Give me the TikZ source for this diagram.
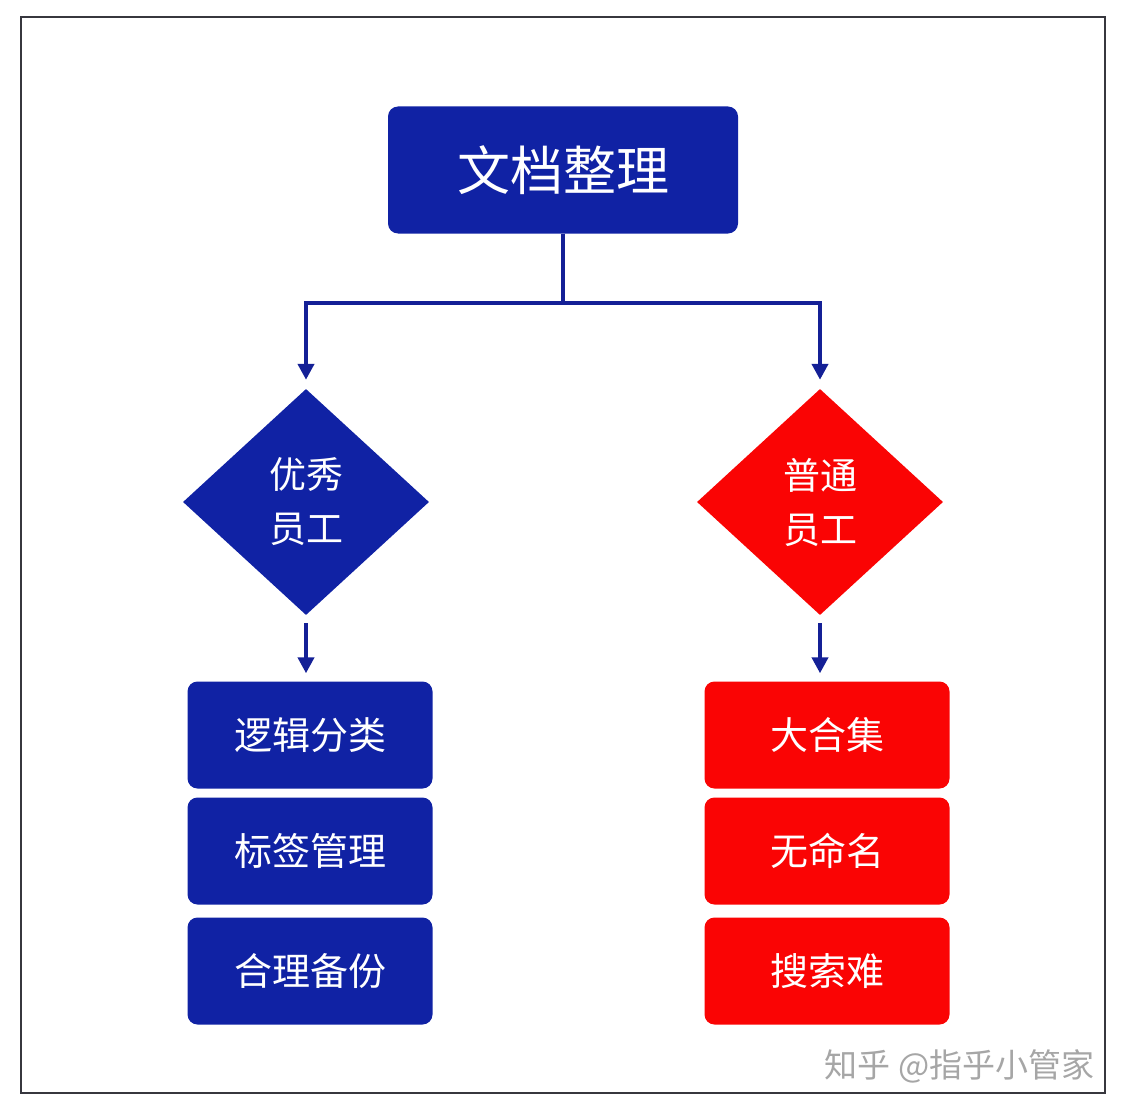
\documentclass[tikz,border=0pt]{standalone}
\usepackage{fontspec}
\newfontfamily\cjk{Noto Sans CJK SC}
\usetikzlibrary{shapes.geometric,arrows.meta,positioning}
\definecolor{docblue}{RGB}{16,34,164}
\definecolor{docred}{RGB}{250,4,4}
\definecolor{linkblue}{RGB}{20,32,150}
\definecolor{framegray}{RGB}{55,55,62}
\tikzset{
	headbox/.style={rectangle, rounded corners=10pt, fill=docblue, text=white, minimum width=350pt, minimum height=127pt, font=\cjk\fontsize{53}{60}\selectfont},
	sortdiam/.style={diamond, minimum width=246pt, minimum height=226pt, inner sep=0pt, text=white, align=center, font=\cjk\fontsize{37}{54}\selectfont},
	notebox/.style={rectangle, rounded corners=10pt, text=white, minimum width=245pt, minimum height=107pt, font=\cjk\fontsize{38}{46}\selectfont},
	link/.style={draw=linkblue, line width=4pt, -{Triangle[width=16pt,length=16pt]}}
}
\begin{document}
\begin{tikzpicture}[x=1pt, y=-1pt]
		\useasboundingbox ( 0, 0 ) rectangle ( 1126, 1110 );
		% рамка
		\draw [framegray, line width=2pt] ( 21, 17.5 ) rectangle ( 1105, 1093 );

		% заголовок
		\node [headbox] (doc) at ( 563, 170 ) {文档整理};

		% ромбы
		\node [sortdiam, fill=docblue] (good) at ( 306, 502 ) {优秀\\员工};
		\node [sortdiam, fill=docred] (plain) at ( 820, 502 ) {普通\\员工};
		\draw [link, shorten >=9pt] (doc.south) -- ++( 0, 69 ) -| (good.north);
		\draw [link, shorten >=9pt] (doc.south) -- ++( 0, 69 ) -| (plain.north);

		% левый столбец
		\node [notebox, fill=docblue] (g1) at ( 310, 735 ) {逻辑分类};
		\node [notebox, fill=docblue] (g2) at ( 310, 851 ) {标签管理};
		\node [notebox, fill=docblue] (g3) at ( 310, 971 ) {合理备份};
		\draw [link, shorten <=8pt, shorten >=8pt] (good.south) -- (good.south |- g1.north);

		% правый столбец
		\node [notebox, fill=docred] (p1) at ( 827, 735 ) {大合集};
		\node [notebox, fill=docred] (p2) at ( 827, 851 ) {无命名};
		\node [notebox, fill=docred] (p3) at ( 827, 971 ) {搜索难};
		\draw [link, shorten <=8pt, shorten >=8pt] (plain.south) -- (plain.south |- p1.north);

		% подпись
		\node [anchor=east, text=gray!70, font=\cjk\fontsize{33}{40}\selectfont] (mark) at ( 1098, 1066 ) {知乎 @指乎小管家};
	\end{tikzpicture}
\end{document}
